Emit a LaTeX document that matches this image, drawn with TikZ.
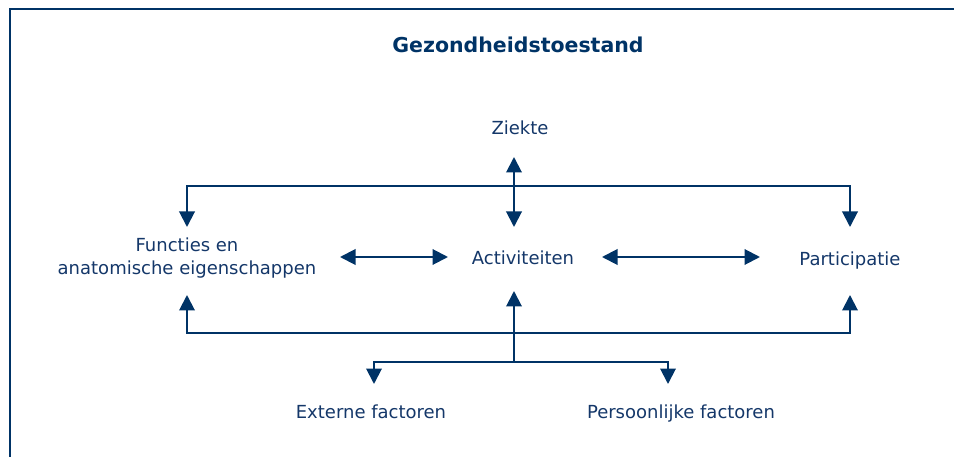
\documentclass[tikz,border=0pt]{standalone}
\usepackage{fontspec}
\setmainfont{DejaVu Sans}
\usetikzlibrary{arrows.meta}
\definecolor{navy}{RGB}{0,51,102}
\definecolor{txt}{RGB}{20,55,105}
\begin{document}
\begin{tikzpicture}[x=1pt,y=-1pt,
  lbl/.style={text=txt,font=\fontsize{18}{22.6}\selectfont,align=center,inner sep=0pt,anchor=base},
  ttl/.style={text=navy,font=\fontsize{20.5}{24}\selectfont\bfseries,inner sep=0pt,anchor=base},
  conn/.style={draw=navy,line width=2pt},
  tipboth/.style={conn,{Triangle[length=15.5pt,width=15.5pt]}-{Triangle[length=15.5pt,width=15.5pt]}},
  tipend/.style={conn,-{Triangle[length=15.5pt,width=15.5pt]}}]
\useasboundingbox (0,0) rectangle (954,457);
% frame
\draw[conn] (10,457) -- (10,9) -- (954,9);
% nodes
\node[ttl] (title) at (518,52.7) {Gezondheidstoestand};
\node[lbl] (ziekte) at (520,135) {Ziekte};
\node[lbl] (func) at (187,274.3) {Functies en\\anatomische eigenschappen};
\node[lbl] (act) at (523,265) {Activiteiten};
\node[lbl] (part) at (850,265.5) {Participatie};
\node[lbl] (ext) at (371,418) {Externe factoren};
\node[lbl] (pers) at (681,418) {Persoonlijke factoren};
% connector end points
\coordinate (zT) at (514,157);
\coordinate (zB) at (514,227);
\coordinate (fT) at (187,227);
\coordinate (pT) at (850,227);
\coordinate (fB) at (187,295);
\coordinate (pB) at (850,295);
\coordinate (aB) at (514,291);
\coordinate (aJ) at (514,362);
\coordinate (eT) at (374,384);
\coordinate (sT) at (668,384);
\coordinate (fR) at (340,257);
\coordinate (aL) at (448,257);
\coordinate (aR) at (602,257);
\coordinate (pL) at (760,257);
% connectors
\draw[tipboth] (zT) -- (zB);
\draw[tipboth] (fT) -- (fT |- 0,186) -- (pT |- 0,186) -- (pT);
\draw[tipboth] (fB) -- (fB |- 0,333) -- (pB |- 0,333) -- (pB);
\draw[tipend] (aJ) -- (aB);
\draw[tipboth] (eT) -- (eT |- aJ) -- (sT |- aJ) -- (sT);
\draw[tipboth] (fR) -- (aL);
\draw[tipboth] (aR) -- (pL);
\end{tikzpicture}
\end{document}
